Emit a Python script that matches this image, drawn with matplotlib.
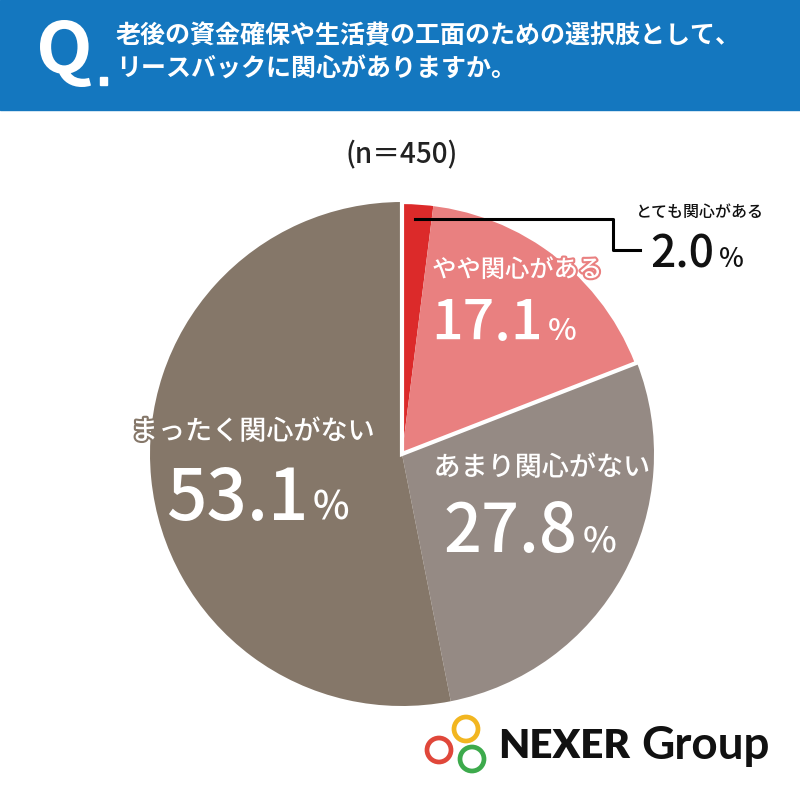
import matplotlib.pyplot as plt
import matplotlib.patheffects as pe
from matplotlib.patches import Rectangle, Circle, Wedge, PathPatch
from matplotlib.textpath import TextPath
from matplotlib.font_manager import FontProperties
from matplotlib.transforms import Affine2D

plt.rcParams['font.family'] = ['Noto Sans CJK JP', 'DejaVu Sans']

# data
labels = ['とても関心がある', 'やや関心がある', 'あまり関心がない', 'まったく関心がない']
values = [2.0, 17.1, 27.8, 53.1]
colors = ['#DC2A2A', '#E98080', '#958A84', '#857769']
title_lines = ['老後の資金確保や生活費の工面のための選択肢として、', 'リースバックに関心がありますか。']
n_text = '(n＝450)'

W, H = 800, 795
fig = plt.figure(figsize=(W / 100, H / 100), dpi=100)

# pie first, overlay on top
cx, cy, r = 402, 454, 252
pax = fig.add_axes([(cx - r) / W, (H - cy - r) / H, 2 * r / W, 2 * r / H])
pax.pie(values, colors=colors, startangle=90, counterclock=False,
        wedgeprops=dict(edgecolor='none', linewidth=0))
# white outline around the "interested" group (first two slices)
top = sum(values[:2]) / sum(values) * 360
pax.add_patch(Wedge((0, 0), 1, 90 - top, 90, fill=False, edgecolor='white', lw=3))
pax.set_xlim(-1, 1)
pax.set_ylim(-1, 1)

# overlay axes in pixel coordinates
bg = fig.add_axes([0, 0, 1, 1])
bg.set_xlim(0, W)
bg.set_ylim(H, 0)
bg.axis('off')

# header band
bg.add_patch(Rectangle((0, 0), W, 110, color='#1477BF', zorder=0))
qp = TextPath((0, 0), 'Q', size=60, prop=FontProperties(family='Noto Sans CJK JP', weight='bold'))
ext = qp.get_extents()
sx = 51 / ext.width
sy = 67 / ext.height
qp = qp.transformed(Affine2D().translate(-ext.x0, -ext.y1).scale(sx, -sy).translate(40, 20))
bg.add_patch(PathPatch(qp, color='white', lw=0))
bg.add_patch(Rectangle((100, 77), 7, 8, color='white'))
bg.text(116, 36, title_lines[0], color='white', fontsize=18, fontweight='bold', va='center')
bg.text(116, 70, title_lines[1], color='white', fontsize=18, fontweight='bold', va='center')

bg.text(402, 155, n_text, fontsize=20, ha='center', va='center',
        color='#222222', fontweight='medium')


def cat_label(x, y, text, size, edge):
    bg.text(x, y, text, color='white', fontsize=size, ha='center', va='center',
            fontweight='medium', path_effects=[pe.withStroke(linewidth=3, foreground=edge)])


def pct_label(x, y, v, size, psize, color='white'):
    bg.text(x, y, f'{v:.1f}', fontsize=size, color=color, ha='right', va='baseline',
            fontweight='medium')
    bg.text(x + 5, y, '%', fontsize=psize, color=color, ha='left', va='baseline',
            fontweight='medium')


cat_label(517, 270, labels[1], 17.5, colors[1])
pct_label(543, 340, values[1], 40, 22)
cat_label(542, 468, labels[2], 19.5, colors[2])
pct_label(578, 552, values[2], 48, 26)
cat_label(253, 432, labels[3], 19.5, colors[3])
pct_label(308, 520, values[3], 51, 28)

# outside label for smallest slice
bg.plot([415, 613, 613, 640], [219, 219, 250, 250], color='black', lw=2.2)
bg.text(700, 212, labels[0], fontsize=11.5, ha='center', va='center', color='#111111',
        fontweight='medium')
pct_label(714, 267, values[0], 32, 19, color='#111111')

# logo
for (x, y, c) in [(439, 750, '#E0473A'), (466, 729, '#F2B620'), (472, 759, '#3DAA4C')]:
    bg.add_patch(Circle((x, y), 12, fill=False, lw=3.4, edgecolor=c))
bg.text(498, 746, 'NEXER', fontsize=29, fontweight='heavy', ha='left', va='center',
        family=['Lato', 'DejaVu Sans'], color='#111111')
bg.text(641, 746, 'Group', fontsize=33, fontweight='bold', ha='left', va='center',
        family=['Lato', 'DejaVu Sans'], color='#111111')

fig.savefig('out.png', dpi=100)
